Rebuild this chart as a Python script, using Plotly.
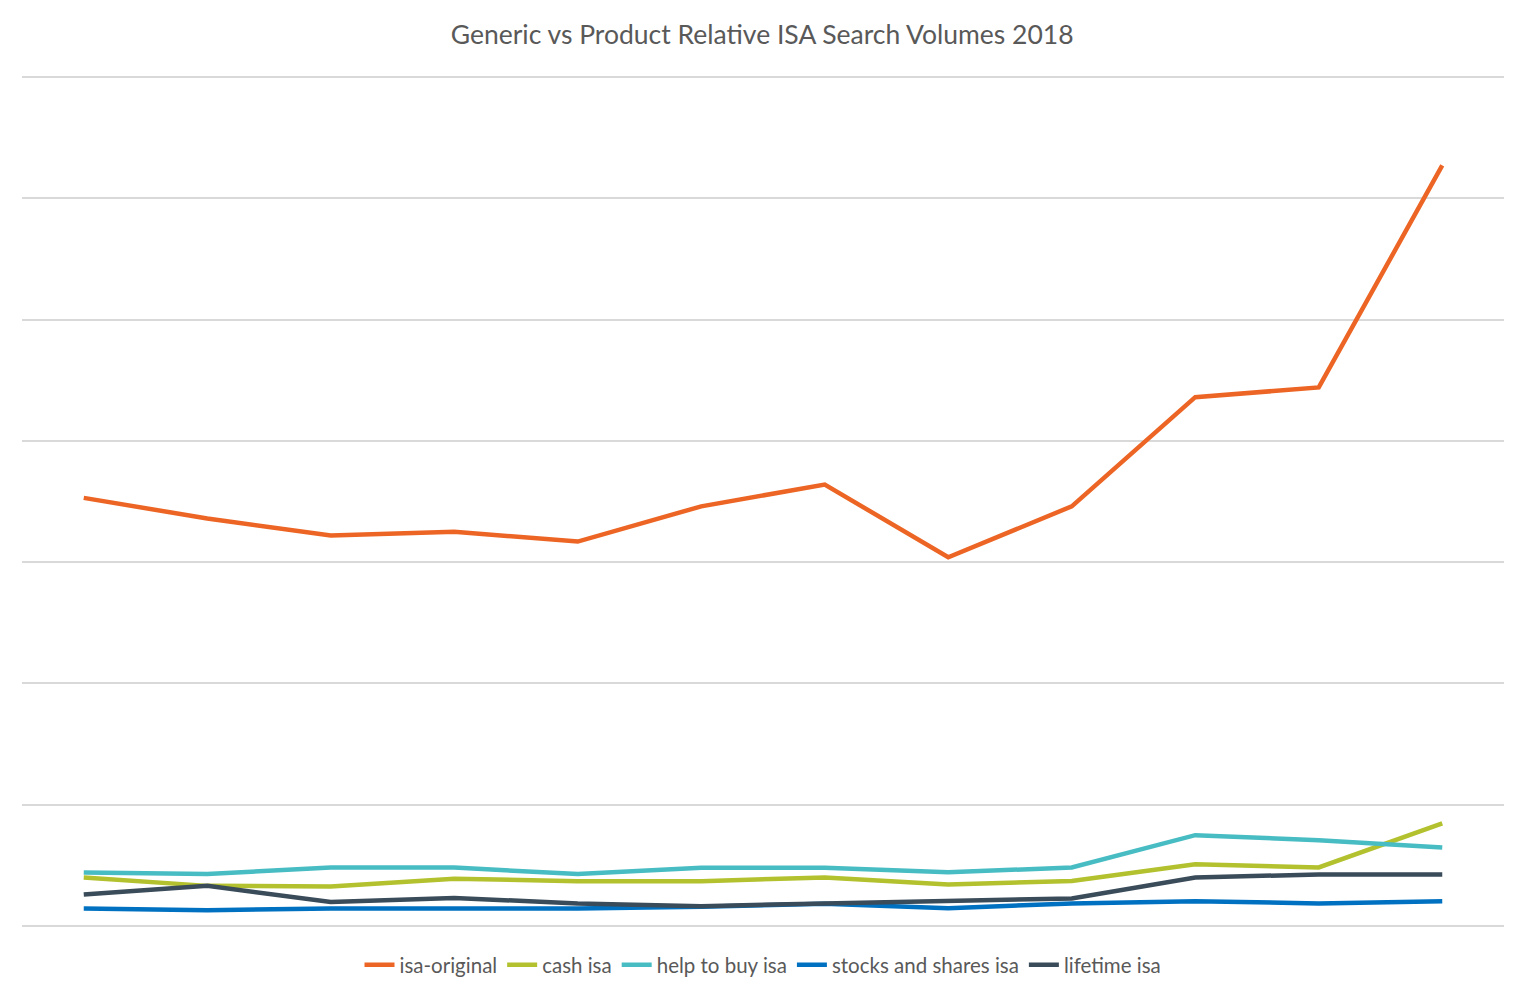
import plotly.graph_objects as go

months = ["Jan", "Feb", "Mar", "Apr", "May", "Jun", "Jul", "Aug", "Sep", "Oct", "Nov", "Dec"]

isa_original = [35.3, 33.6, 32.2, 32.5, 31.7, 34.6, 36.4, 30.4, 34.6, 43.6, 44.4, 62.7]
cash_isa = [4.01, 3.32, 3.27, 3.90, 3.71, 3.71, 4.01, 3.44, 3.73, 5.11, 4.84, 8.47]
help_to_buy_isa = [4.43, 4.29, 4.83, 4.83, 4.29, 4.81, 4.81, 4.45, 4.83, 7.50, 7.09, 6.49]
stocks_and_shares_isa = [1.46, 1.32, 1.46, 1.46, 1.46, 1.59, 1.84, 1.48, 1.87, 2.06, 1.87, 2.06]
lifetime_isa = [2.61, 3.32, 2.00, 2.33, 1.87, 1.65, 1.87, 2.09, 2.28, 4.01, 4.26, 4.26]

series = [
    ("isa-original", isa_original, "#ED6524"),
    ("cash isa", cash_isa, "#B2C12D"),
    ("help to buy isa", help_to_buy_isa, "#48BCC3"),
    ("stocks and shares isa", stocks_and_shares_isa, "#0071C1"),
    ("lifetime isa", lifetime_isa, "#3A4B59"),
]

fig = go.Figure()
for name, vals, color in series:
    fig.add_trace(go.Scatter(
        x=months, y=vals, name=name, mode="lines",
        line=dict(color=color, width=4.5),
    ))

fig.update_layout(
    width=1519, height=987,
    paper_bgcolor="white", plot_bgcolor="white",
    margin=dict(l=14, r=23, t=64, b=64, autoexpand=False),
    title=dict(text="Generic vs Product Relative ISA Search Volumes 2018",
               x=0.4965, xanchor="center", y=0.973, yanchor="middle",
               font=dict(family="Lato, Open Sans, sans-serif", size=26.5, color="#595959")),
    font=dict(family="Lato, Open Sans, sans-serif", color="#595959"),
    showlegend=True,
    legend=dict(orientation="h", x=0.5, xanchor="center",
                yref="container", y=0.0304, yanchor="middle",
                font=dict(size=20.5, color="#595959"), itemwidth=30),
    xaxis=dict(type="category", range=[-0.5, 11.5], showticklabels=False,
               showgrid=False, zeroline=False, showline=False, ticks=""),
    yaxis=dict(range=[-0.4, 70.4], tickvals=[0, 10, 20, 30, 40, 50, 60, 70],
               showticklabels=False, showgrid=True,
               gridcolor="#D9D9D9", gridwidth=1.5, zeroline=False, showline=False, ticks=""),
)

fig.write_html("out.html")
